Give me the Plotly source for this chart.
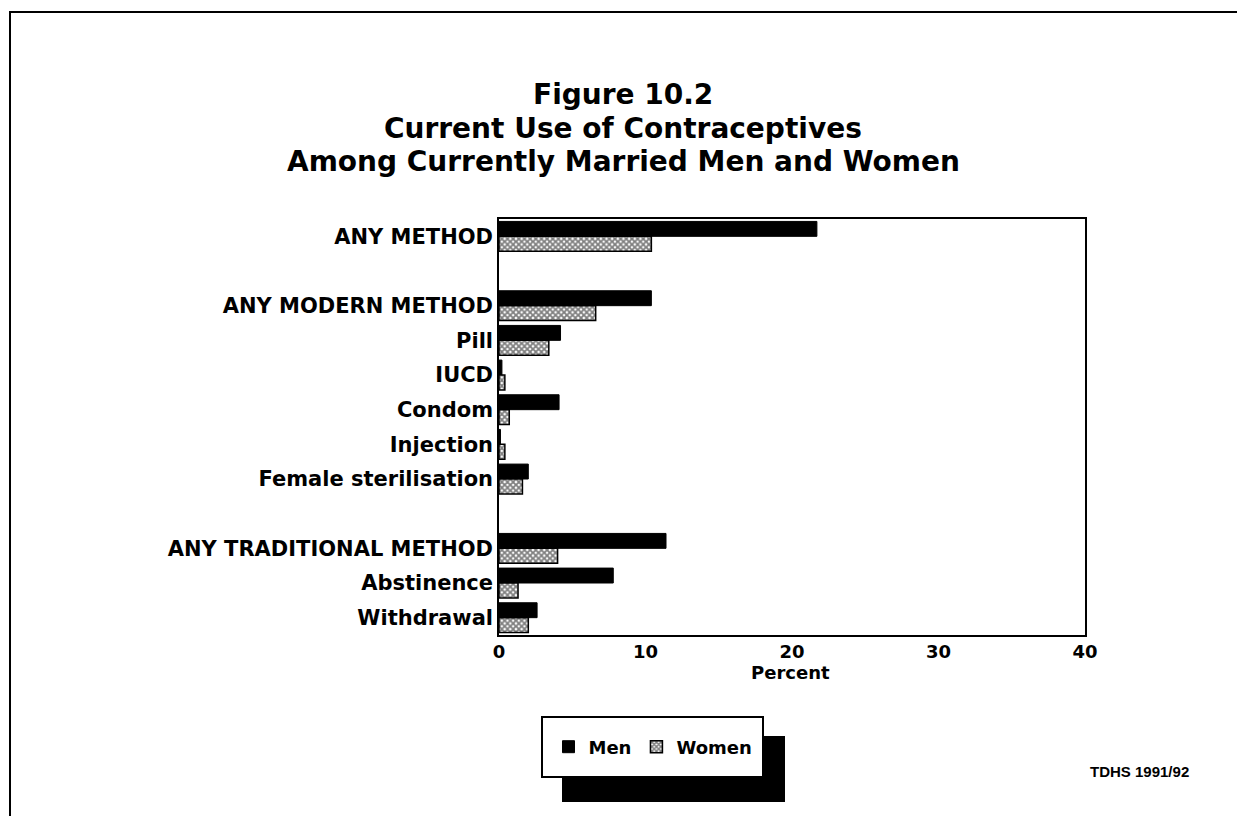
import plotly.graph_objects as go

categories = ["ANY METHOD", " ", "ANY MODERN METHOD", "Pill", "IUCD", "Condom",
              "Injection", "Female sterilisation", "  ", "ANY TRADITIONAL METHOD",
              "Abstinence", "Withdrawal"]
men = [21.7, None, 10.4, 4.2, 0.2, 4.1, 0.1, 2.0, None, 11.4, 7.8, 2.6]
women = [10.4, None, 6.6, 3.4, 0.4, 0.7, 0.4, 1.6, None, 4.0, 1.3, 2.0]
x_ticks = [0, 10, 20, 30, 40]
tick_labels = ["0", "10", "20", "30", "40"]
title_lines = ["Figure 10.2", "Current Use of Contraceptives",
               "Among Currently Married Men and Women"]

FONT = "DejaVu Sans, Verdana, sans-serif"
FONT2 = "Liberation Sans, Arial, sans-serif"

W, H = 1245, 816
L, R, T, B = 491, 168, 211, 189
PW, PH = W - L - R, H - T - B

def px(x):
    return (x - L) / PW

def py(y):
    return (H - B - y) / PH

fig = go.Figure()
fig.add_trace(go.Bar(
    y=categories, x=men, orientation="h", name="Men",
    marker=dict(color="black", line=dict(color="black", width=1)),
))
fig.add_trace(go.Bar(
    y=categories, x=women, orientation="h", name="Women",
    marker=dict(color="white", line=dict(color="black", width=1.5),
                pattern=dict(shape="x", fgcolor="black", bgcolor="white",
                             size=4, solidity=0.7, fillmode="overlay")),
))

# legend shadow and box
fig.add_shape(type="rect", xref="paper", yref="paper",
              x0=px(554), x1=px(777), y0=py(794), y1=py(728),
              fillcolor="black", line=dict(width=0), layer="below")
fig.add_shape(type="rect", xref="paper", yref="paper",
              x0=px(534), x1=px(755), y0=py(769), y1=py(709),
              fillcolor="white", line=dict(color="black", width=2), layer="below")
# outer frame
fig.add_shape(type="rect", xref="paper", yref="paper",
              x0=px(2), x1=px(1300), y0=py(900), y1=py(4),
              line=dict(color="black", width=2), fillcolor="rgba(0,0,0,0)", layer="below")

fig.update_layout(
    width=W, height=H,
    margin=dict(l=L, r=R, t=T, b=B),
    paper_bgcolor="white", plot_bgcolor="white",
    barmode="group", bargap=0.14, bargroupgap=0.0,
    font=dict(family=FONT, color="black"),
    showlegend=True,
    legend=dict(orientation="h", x=px(645), y=py(739), xanchor="center", yanchor="middle",
                bgcolor="rgba(0,0,0,0)", borderwidth=0,
                font=dict(size=18, family=FONT, color="black", weight="bold"),
                itemwidth=30, tracegroupgap=0),
    xaxis=dict(range=[0, 40], tickvals=x_ticks, ticktext=tick_labels,
               showgrid=False, zeroline=False, showline=True, linecolor="black",
               linewidth=1.5, mirror=True, ticks="",
               tickfont=dict(size=18, family=FONT, weight="bold")),
    yaxis=dict(categoryorder="array", categoryarray=categories, autorange="reversed",
               showgrid=False, zeroline=False, showline=True, linecolor="black",
               linewidth=1.5, mirror=True, ticks="",
               tickfont=dict(size=21, family=FONT, weight="bold")),
)

for line, yc in zip(title_lines, [87, 120, 153]):
    fig.add_annotation(
        text="<b>" + line + "</b>", xref="paper", yref="paper",
        x=px(615), y=py(yc), xanchor="center", yanchor="middle",
        showarrow=False, font=dict(size=28, family=FONT, color="black"),
    )
fig.add_annotation(
    text="<b>Percent</b>", xref="paper", yref="paper", x=px(782), y=py(664),
    xanchor="center", yanchor="middle", showarrow=False,
    font=dict(size=18, family=FONT, color="black"),
)
fig.add_annotation(
    text="<b>TDHS 1991/92</b>", xref="paper", yref="paper", x=px(1183), y=py(763),
    xanchor="right", yanchor="middle", showarrow=False,
    font=dict(size=15, family=FONT2, color="black"),
)

fig.write_html("out.html")
